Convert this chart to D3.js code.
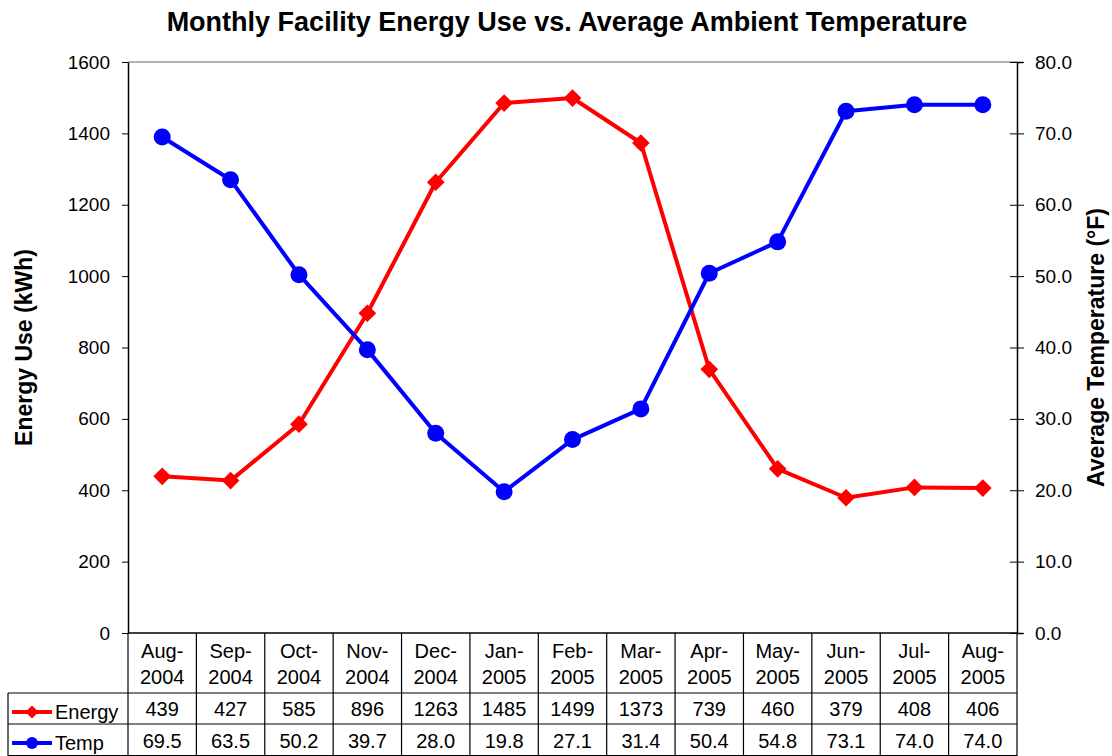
<!DOCTYPE html>
<html>
<head>
<meta charset="utf-8">
<script src="https://cdn.jsdelivr.net/npm/d3@7"></script>
<style>
  body { margin: 0; background: #fff; }
  svg { font-family: "Liberation Sans", Arial, sans-serif; }
</style>
</head>
<body>
<svg width="1112" height="756"></svg>
<script>
var months = ["Aug-2004", "Sep-2004", "Oct-2004", "Nov-2004", "Dec-2004", "Jan-2005", "Feb-2005",
  "Mar-2005", "Apr-2005", "May-2005", "Jun-2005", "Jul-2005", "Aug-2005"];
var energy = [439, 427, 585, 896, 1263, 1485, 1499, 1373, 739, 460, 379, 408, 406];
var temp = [69.5, 63.5, 50.2, 39.7, 28.0, 19.8, 27.1, 31.4, 50.4, 54.8, 73.1, 74.0, 74.0];
var energyTicks = [0, 200, 400, 600, 800, 1000, 1200, 1400, 1600];
var tempTicks = [0, 10, 20, 30, 40, 50, 60, 70, 80];

var svg = d3.select("svg"),
  pLeft = 128, pRight = 1017, pTop = 62, pBottom = 633,
  rowY = [633, 693, 724, 756];

var x = d3.scaleBand().domain(months).range([pLeft, pRight]),
  yE = d3.scaleLinear().domain([0, 1600]).range([pBottom, pTop]),
  yT = d3.scaleLinear().domain([0, 80]).range([pBottom, pTop]);

// title
svg.append("text")
  .attr("x", 567).attr("y", 31)
  .attr("text-anchor", "middle")
  .style("font-size", "27px").style("font-weight", "bold")
  .text("Monthly Facility Energy Use vs. Average Ambient Temperature");

// top border of the plot is gray
svg.append("line").attr("x1", pLeft).attr("x2", pRight).attr("y1", pTop).attr("y2", pTop)
  .attr("stroke", "#999").attr("stroke-width", 1.5);

// left axis
var gl = svg.append("g").attr("transform", "translate(" + pLeft + ",0)")
  .call(d3.axisLeft(yE).tickValues(energyTicks).tickSize(6).tickSizeOuter(0).tickPadding(12).tickFormat(d3.format("d")));
gl.select(".domain").attr("stroke", "#000").attr("stroke-width", 1.5);
gl.selectAll(".tick line").attr("stroke", "#000");
gl.selectAll("text").style("font-size", "19px").attr("fill", "#000");

// right axis (ticks cross the axis)
var gr = svg.append("g").attr("transform", "translate(" + pRight + ",0)")
  .call(d3.axisRight(yT).tickValues(tempTicks).tickSizeOuter(0).tickSize(6).tickPadding(12).tickFormat(d3.format(".1f")));
gr.select(".domain").attr("stroke", "#000").attr("stroke-width", 1.5);
gr.selectAll(".tick line").attr("stroke", "#000").attr("x1", -7).attr("x2", 7);
gr.selectAll("text").style("font-size", "19px").attr("fill", "#000");

// axis titles
svg.append("text")
  .attr("transform", "translate(32," + ((pTop + pBottom) / 2) + ") rotate(-90)")
  .attr("text-anchor", "middle")
  .style("font-size", "23px").style("font-weight", "bold")
  .text("Energy Use (kWh)");
svg.append("text")
  .attr("transform", "translate(1104," + ((pTop + pBottom) / 2) + ") rotate(-90)")
  .attr("text-anchor", "middle")
  .style("font-size", "23px").style("font-weight", "bold")
  .text("Average Temperature (°F)");

// data table grid
var tbl = svg.append("g").attr("stroke", "#000").attr("stroke-width", 1.2);
tbl.append("line").attr("x1", pLeft).attr("x2", pRight).attr("y1", rowY[0]).attr("y2", rowY[0]).attr("stroke-width", 1.5);
tbl.append("line").attr("x1", 8).attr("x2", pRight).attr("y1", rowY[1]).attr("y2", rowY[1]);
tbl.append("line").attr("x1", 8).attr("x2", pRight).attr("y1", rowY[2]).attr("y2", rowY[2]);
tbl.append("line").attr("x1", 8).attr("x2", pRight).attr("y1", rowY[3] - 0.5).attr("y2", rowY[3] - 0.5);
tbl.append("line").attr("x1", 8).attr("x2", 8).attr("y1", rowY[1]).attr("y2", rowY[3]);
months.forEach(function(m) {
  tbl.append("line").attr("x1", x(m)).attr("x2", x(m)).attr("y1", rowY[0]).attr("y2", rowY[3]);
});
tbl.append("line").attr("x1", pRight).attr("x2", pRight).attr("y1", rowY[0]).attr("y2", rowY[3]);

var cells = svg.append("g").style("font-size", "20px").attr("text-anchor", "middle");
months.forEach(function(m, i) {
  var cx = x(m) + x.bandwidth() / 2, parts = m.split("-");
  cells.append("text").attr("x", cx).attr("y", 658).text(parts[0] + "-");
  cells.append("text").attr("x", cx).attr("y", 684).text(parts[1]);
  cells.append("text").attr("x", cx).attr("y", 716).text(energy[i]);
  cells.append("text").attr("x", cx).attr("y", 748).text(temp[i].toFixed(1));
});

// legend keys inside the table
function legendKey(y, color, sym, label) {
  svg.append("line").attr("x1", 12).attr("x2", 52).attr("y1", y).attr("y2", y)
    .attr("stroke", color).attr("stroke-width", 4);
  svg.append("path").attr("d", sym).attr("transform", "translate(32," + y + ")").attr("fill", color);
  svg.append("text").attr("x", 55).attr("y", y + 7).style("font-size", "20px").text(label);
}
legendKey(712, "#ff0000", d3.symbol().type(d3.symbolDiamond2).size(110)(), "Energy");
legendKey(743, "#0000ff", d3.symbol().type(d3.symbolCircle).size(110)(), "Temp");

// series
var cxf = function(i) { return x(months[i]) + x.bandwidth() / 2; };
var lineE = d3.line().x(function(d, i) { return cxf(i); }).y(function(d) { return yE(d); });
var lineT = d3.line().x(function(d, i) { return cxf(i); }).y(function(d) { return yT(d); });

svg.append("path").datum(energy).attr("d", lineE)
  .attr("fill", "none").attr("stroke", "#ff0000").attr("stroke-width", 4).attr("stroke-linejoin", "round");
svg.append("path").datum(temp).attr("d", lineT)
  .attr("fill", "none").attr("stroke", "#0000ff").attr("stroke-width", 4).attr("stroke-linejoin", "round");

svg.selectAll(".ptE").data(energy).enter().append("path")
  .attr("class", "ptE")
  .attr("d", d3.symbol().type(d3.symbolDiamond2).size(200))
  .attr("transform", function(d, i) { return "translate(" + cxf(i) + "," + yE(d) + ")"; })
  .attr("fill", "#ff0000");
svg.selectAll(".ptT").data(temp).enter().append("circle")
  .attr("class", "ptT")
  .attr("cx", function(d, i) { return cxf(i); })
  .attr("cy", function(d) { return yT(d); })
  .attr("r", 8.5)
  .attr("fill", "#0000ff");
</script>
</body>
</html>
